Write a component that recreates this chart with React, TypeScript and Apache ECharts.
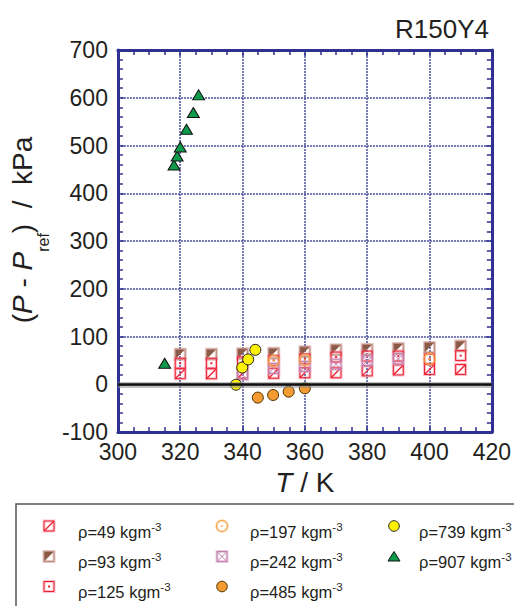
import React, { useEffect, useRef } from 'react';
import * as echarts from 'echarts';

// ---------- data ----------
const X_MIN = 300, X_MAX = 420, X_STEP = 20;
const Y_MIN = -100, Y_MAX = 700, Y_STEP = 100;

const T_BOX = [320, 330, 340, 350, 360, 370, 380, 390, 400, 410];
const P_49 = [22, 22, 23, 23, 24, 24, 28, 30, 31, 31];
const P_93 = [63, 63, 64, 65, 68, 72, 73, 75, 77, 80];
const P_125 = [44, 44, 47, 50, 53, 57, 59, 59, 53, 60];

const T_197 = [350, 360, 400];
const P_197 = [49, 51, 53];

const T_242 = [340, 350, 360, 370, 380, 390];
const P_242 = [20, 33, 37, 42, 49, 53];

const T_485 = [344.9, 349.8, 354.8, 360.0];
const P_485 = [-28, -22.5, -15.5, -8.5];

const T_739 = [337.9, 339.9, 341.8, 344.1];
const P_739 = [-1, 35, 52, 72];

const T_907 = [315, 318, 319, 320, 322, 324.2, 325.9];
const P_907 = [44, 459, 478, 497, 534, 569, 606];

const LEGEND_LABELS = ['ρ=49 kgm', 'ρ=93 kgm', 'ρ=125 kgm', 'ρ=197 kgm', 'ρ=242 kgm', 'ρ=485 kgm', 'ρ=739 kgm', 'ρ=907 kgm'];
const LEGEND_KINDS = ['slash', 'half', 'dot', 'ocirc', 'cross', 'f485', 'f739', 'tri'];

// ---------- styles ----------
const FONT = '"Liberation Sans", Arial, Helvetica, sans-serif';
const NAVY = '#2e3192';
const GRIDC = '#4b4d9c';
const TXT = '#231f20';
const RED = '#ee1d2f';
const RED_HALO = 'rgba(242,120,140,0.45)';
const BROWN = '#8b5a47';
const BROWN_EDGE = '#c08a82';
const MAUVE = '#c27fae';
const MAUVE_HALO = 'rgba(215,160,195,0.5)';
const ORING = '#f6a44c';
const ORANGE = '#f49b32';
const YELLOW = '#fff200';
const GREEN = '#0f9b4c';

const S = 5;

function markerEls(kind: string, cx: number, cy: number): any[] {
  const x0 = cx - S, y0 = cy - S, w = 2 * S;
  const rect = (stroke: string, lw: number) => ({
    type: 'rect', shape: { x: x0, y: y0, width: w, height: w },
    style: { fill: 'none', stroke, lineWidth: lw },
  });
  const line = (x1: number, y1: number, x2: number, y2: number, stroke: string, lw: number) => ({
    type: 'line', shape: { x1, y1, x2, y2 }, style: { stroke, lineWidth: lw },
  });
  switch (kind) {
    case 'slash':
      return [rect(RED_HALO, 3), rect(RED, 1), line(x0, y0 + w, x0 + w, y0, RED, 1.3)];
    case 'half':
      return [
        rect('rgba(190,130,120,0.45)', 3),
        { type: 'polygon', shape: { points: [[x0, y0], [x0 + w, y0], [x0, y0 + w]] }, style: { fill: BROWN } },
        rect(BROWN_EDGE, 1),
      ];
    case 'dot':
      return [rect(RED_HALO, 3), rect(RED, 1),
        { type: 'rect', shape: { x: cx - 1, y: cy - 1, width: 2, height: 2 }, style: { fill: RED } }];
    case 'cross':
      return [rect(MAUVE_HALO, 3), rect(MAUVE, 1),
        line(x0, y0, x0 + w, y0 + w, MAUVE, 1), line(x0, y0 + w, x0 + w, y0, MAUVE, 1)];
    case 'ocirc':
      return [
        { type: 'circle', shape: { cx, cy, r: 5.5 }, style: { fill: 'none', stroke: 'rgba(246,164,76,0.45)', lineWidth: 2.5 } },
        { type: 'circle', shape: { cx, cy, r: 5.5 }, style: { fill: 'none', stroke: ORING, lineWidth: 1 } },
        { type: 'circle', shape: { cx, cy, r: 0.9 }, style: { fill: ORING } },
      ];
    case 'f485':
      return [{ type: 'circle', shape: { cx, cy, r: 5.3 }, style: { fill: ORANGE, stroke: '#4a3000', lineWidth: 1 } }];
    case 'f739':
      return [{ type: 'circle', shape: { cx, cy, r: 5.3 }, style: { fill: YELLOW, stroke: '#222', lineWidth: 1 } }];
    case 'tri':
      return [{ type: 'polygon', shape: { points: [[cx, cy - 5], [cx + 6, cy + 4.5], [cx - 6, cy + 4.5]] }, style: { fill: GREEN, stroke: '#111', lineWidth: 1 } }];
  }
  return [];
}

function pairs(xs: number[], ys: number[]) {
  return xs.map((x, i) => [x, ys[i]]);
}

function boxSeries(name: string, kind: string, xs: number[], ys: number[], extra: any = {}) {
  return {
    name,
    type: 'custom',
    coordinateSystem: 'cartesian2d',
    encode: { x: 0, y: 1 },
    data: pairs(xs, ys),
    renderItem: (_p: any, api: any) => {
      const pt = api.coord([api.value(0), api.value(1)]);
      return { type: 'group', children: markerEls(kind, pt[0], pt[1]) };
    },
    ...extra,
  };
}

function buildLegend(): any[] {
  const colX = [49, 222, 394];
  const textX = [78, 250, 419];
  const rowY = [526, 556.5, 586.5];
  const els: any[] = [
    { type: 'rect', shape: { x: 16, y: 504, width: 640, height: 200 }, style: { fill: 'none', stroke: '#555', lineWidth: 1.5 } },
  ];
  LEGEND_KINDS.forEach((kind, i) => {
    const c = Math.floor(i / 3), r = i % 3;
    els.push({ type: 'group', children: markerEls(kind, colX[c], rowY[r]) });
    els.push({
      type: 'text', x: textX[c], y: rowY[r] + 5.5,
      style: {
        text: `{a|${LEGEND_LABELS[i]}}{s|-3}`,
        verticalAlign: 'middle', align: 'left',
        rich: {
          a: { fontSize: 16.5, lineHeight: 22, fontFamily: FONT, fill: TXT },
          s: { fontSize: 11.5, lineHeight: 12, verticalAlign: 'top', fontFamily: FONT, fill: TXT },
        },
      },
    });
  });
  return els;
}

function axisCommon(isX: boolean) {
  return {
    type: 'value',
    min: isX ? X_MIN : Y_MIN,
    max: isX ? X_MAX : Y_MAX,
    interval: isX ? X_STEP : Y_STEP,
    axisLine: { show: true, onZero: false, lineStyle: { color: NAVY, width: 3 } },
    axisTick: { show: true, inside: true, length: 6, lineStyle: { color: NAVY, width: 1.5 } },
    minorTick: { show: true, splitNumber: isX ? 4 : 5, length: 5, lineStyle: { color: NAVY, width: 1.5 } },
  };
}

export default function App() {
  const ref = useRef<HTMLDivElement>(null);
  useEffect(() => {
    const chart = echarts.init(ref.current!, null, { renderer: 'svg' });
    const option: any = {
      animation: false,
      backgroundColor: '#fff',
      title: {
        text: 'R150Y4', right: 25, top: 16, padding: 0,
        textStyle: { fontSize: 26, fontWeight: 'normal', color: TXT, fontFamily: FONT },
      },
      grid: { left: 110, top: 50, width: 385, height: 382 },
      xAxis: [
        {
          ...axisCommon(true), position: 'bottom',
          axisLabel: { fontSize: 23, color: TXT, fontFamily: FONT, margin: 8 },
          splitLine: { show: true, lineStyle: { color: GRIDC, width: 1.5, type: [2, 1] } },
          name: '{i|T}{n| / K}', nameLocation: 'middle', nameGap: 35,
          nameTextStyle: {
            rich: {
              i: { fontSize: 28, lineHeight: 30, fontStyle: 'italic', fontFamily: FONT, color: TXT },
              n: { fontSize: 28, lineHeight: 30, fontFamily: FONT, color: TXT },
            },
          },
        },
        { ...axisCommon(true), position: 'top', axisLabel: { show: false }, splitLine: { show: false } },
      ],
      yAxis: [
        {
          ...axisCommon(false), position: 'left',
          axisLabel: { fontSize: 23, color: TXT, fontFamily: FONT, margin: 10 },
          splitLine: { show: true, lineStyle: { color: GRIDC, width: 1.5, type: [2, 1] } },
          name: '{sp| }{n|(}{p|P}{n| - }{p|P}{sub|ref}{n|)  /  kPa}', nameLocation: 'middle', nameGap: 59, nameRotate: 90,
          nameTextStyle: {
            rich: {
              sp: { fontSize: 10, width: 22, lineHeight: 30, verticalAlign: 'top', fontFamily: FONT },
              n: { fontSize: 28, lineHeight: 30, verticalAlign: 'top', fontFamily: FONT, color: TXT },
              p: { fontSize: 28, lineHeight: 30, verticalAlign: 'top', fontStyle: 'italic', fontFamily: FONT, color: TXT },
              sub: { fontSize: 16, lineHeight: 16, padding: [27, 0, 0, 0], verticalAlign: 'top', fontFamily: FONT, color: TXT },
            },
          },
        },
        { ...axisCommon(false), position: 'right', axisLabel: { show: false }, splitLine: { show: false } },
      ],
      graphic: buildLegend(),
      series: [
        boxSeries('ρ=49', 'slash', T_BOX, P_49, {
          markLine: {
            silent: true, symbol: ['none', 'none'], label: { show: false },
            lineStyle: { color: 'rgba(140,140,140,0.55)', width: 6, type: 'solid' },
            data: [{ yAxis: 0 }],
          },
        }),
        boxSeries('ρ=93', 'half', T_BOX, P_93),
        boxSeries('ρ=125', 'dot', T_BOX, P_125),
        boxSeries('ρ=242', 'cross', T_242, P_242),
        boxSeries('ρ=197', 'ocirc', T_197, P_197),
        {
          name: 'ρ=485', type: 'scatter', data: pairs(T_485, P_485), symbol: 'circle', symbolSize: 11,
          itemStyle: { color: ORANGE, borderColor: '#4a3000', borderWidth: 1, opacity: 1 },
        },
        {
          name: 'ρ=739', type: 'scatter', data: pairs(T_739, P_739), symbol: 'circle', symbolSize: 11,
          itemStyle: { color: YELLOW, borderColor: '#222', borderWidth: 1, opacity: 1 },
          markLine: {
            silent: true, symbol: ['none', 'none'], label: { show: false },
            lineStyle: { color: '#111', width: 2.5, type: 'solid' },
            data: [{ yAxis: 0 }],
          },
        },
        {
          name: 'ρ=907', type: 'scatter', data: pairs(T_907, P_907), symbol: 'triangle', symbolSize: [12, 10],
          itemStyle: { color: GREEN, borderColor: '#111', borderWidth: 1, opacity: 1 },
        },
      ],
    };
    chart.setOption(option);
    return () => chart.dispose();
  }, []);
  return <div ref={ref} style={{ width: 514, height: 606, position: 'absolute', left: 0, top: 0 }} />;
}
